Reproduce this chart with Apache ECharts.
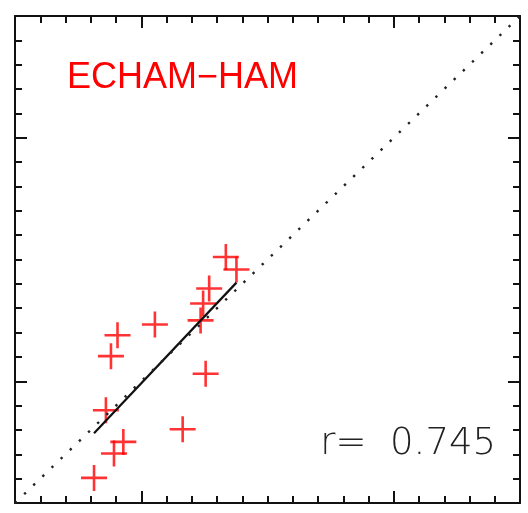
<!DOCTYPE html>
<html>
<head>
<meta charset="utf-8">
<script src="https://cdn.jsdelivr.net/npm/echarts@6/dist/echarts.min.js"></script>
<style>
  html, body { margin: 0; padding: 0; background: #fff; }
  #chart { width: 528px; height: 513px; }
</style>
</head>
<body>
<div id="chart"></div>
<script>
// Observed vs. modelled values (ECHAM-HAM), one "+" per station
const obsValues   = [3.13, 3.92, 4.29, 3.60, 3.80, 4.06, 5.54, 6.64, 7.55, 7.35, 7.45, 7.69, 8.35, 8.77];
const modelValues = [1.03, 2.03, 2.51, 3.81, 6.03, 6.89, 7.33, 3.03, 5.31, 7.50, 8.19, 8.81, 10.10, 9.59];

// Axis range and tick layout (no tick labels are printed)
const axisRange = [0, 20];
const minorStep = 1;
const majorTicks = [5, 15];

const modelName = 'ECHAM\u2212HAM';
const corrLabel = '0.745';

// Least-squares fit of model against observation, drawn across the observed range
function linearFit(xs, ys) {
  const n = xs.length;
  const mx = xs.reduce((a, b) => a + b, 0) / n;
  const my = ys.reduce((a, b) => a + b, 0) / n;
  let sxy = 0, sxx = 0;
  for (let i = 0; i < n; i++) {
    sxy += (xs[i] - mx) * (ys[i] - my);
    sxx += (xs[i] - mx) * (xs[i] - mx);
  }
  const slope = sxy / sxx;
  return { slope, intercept: my - slope * mx };
}
const fit = linearFit(obsValues, modelValues);
const xLo = Math.min(...obsValues), xHi = Math.max(...obsValues);
const fitLine = [[xLo, fit.intercept + fit.slope * xLo], [xHi, fit.intercept + fit.slope * xHi]];
const oneToOne = [[axisRange[0], axisRange[0]], [axisRange[1], axisRange[1]]];

const points = obsValues.map((x, i) => [x, modelValues[i]]);

const INK = '#111';

function tickAxis(position, major, showLine) {
  return {
    type: 'value',
    position: position,
    min: axisRange[0],
    max: axisRange[1],
    interval: minorStep,
    axisLine: { show: showLine, onZero: false, lineStyle: { color: INK, width: 2 } },
    axisTick: major
      ? { show: true, inside: true, length: 12, customValues: majorTicks, lineStyle: { color: INK, width: 2 } }
      : { show: true, inside: true, length: 7, lineStyle: { color: INK, width: 2 } },
    axisLabel: { show: false },
    splitLine: { show: false }
  };
}

const chart = echarts.init(document.getElementById('chart'), null, { renderer: 'canvas' });
chart.setOption({
  animation: false,
  backgroundColor: '#ffffff',
  grid: { left: 15, right: 8, top: 16, bottom: 10, containLabel: false },
  xAxis: [
    tickAxis('bottom', false, true),
    tickAxis('bottom', true, false),
    tickAxis('top', false, true),
    tickAxis('top', true, false)
  ],
  yAxis: [
    tickAxis('left', false, true),
    tickAxis('left', true, false),
    tickAxis('right', false, true),
    tickAxis('right', true, false)
  ],
  series: [
    {
      type: 'scatter',
      xAxisIndex: 0,
      yAxisIndex: 0,
      data: points,
      // plus marker with 2.6-unit-wide arms in a 26-unit box
      symbol: 'path://M11.7,0H14.3V11.7H26V14.3H14.3V26H11.7V14.3H0V11.7H11.7Z',
      symbolSize: 26,
      itemStyle: { color: '#ff0000' },
      z: 2
    },
    {
      type: 'line',
      xAxisIndex: 0,
      yAxisIndex: 0,
      data: fitLine,
      symbol: 'none',
      lineStyle: { color: INK, width: 2.2 },
      z: 3
    },
    {
      type: 'line',
      xAxisIndex: 0,
      yAxisIndex: 0,
      data: oneToOne,
      symbol: 'none',
      lineStyle: { color: '#222', width: 2.4, type: [2.4, 10.3], cap: 'butt' },
      z: 4
    }
  ],
  graphic: [
    {
      type: 'text',
      x: 67,
      y: 78,
      style: {
        text: modelName,
        font: '36px "Liberation Sans", Arial, sans-serif',
        fill: '#ff0000',
        align: 'left',
        verticalAlign: 'middle'
      },
      z: 10
    },
    {
      type: 'text',
      x: 496,
      y: 444,
      style: {
        text: 'r=  ' + corrLabel,
        font: '200 37px "DejaVu Sans", sans-serif',
        fill: '#222',
        align: 'right',
        verticalAlign: 'middle'
      },
      z: 10
    }
  ]
});
</script>
</body>
</html>
